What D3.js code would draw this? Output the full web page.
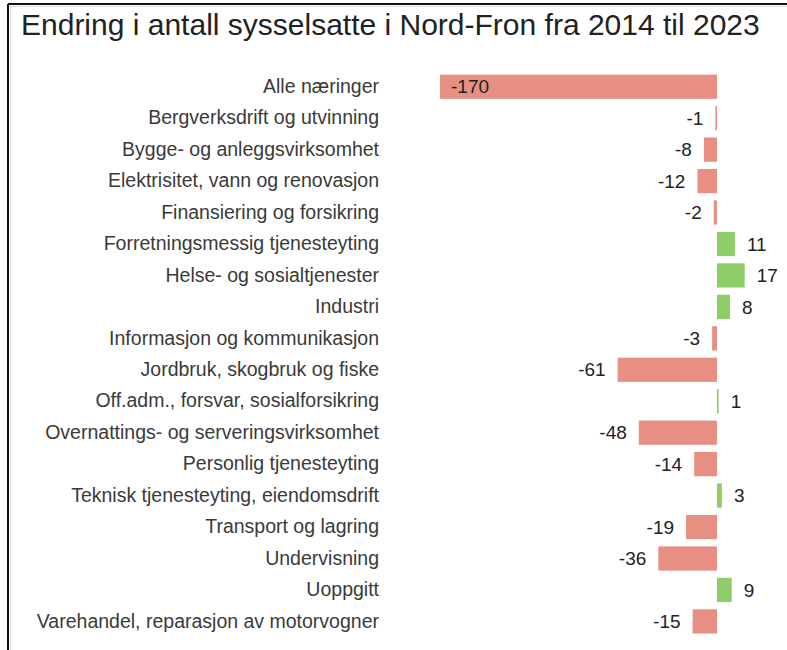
<!DOCTYPE html>
<html>
<head>
<meta charset="utf-8">
<script src="https://cdn.jsdelivr.net/npm/d3@7"></script>
<style>
  body { margin: 0; background: #fff; }
  svg text { font-family: "Liberation Sans", Arial, sans-serif; }
</style>
</head>
<body>
<svg id="chart" width="787" height="650"></svg>
<script>
// Data
const title = "Endring i antall sysselsatte i Nord-Fron fra 2014 til 2023";
const categories = [
  "Alle næringer",
  "Bergverksdrift og utvinning",
  "Bygge- og anleggsvirksomhet",
  "Elektrisitet, vann og renovasjon",
  "Finansiering og forsikring",
  "Forretningsmessig tjenesteyting",
  "Helse- og sosialtjenester",
  "Industri",
  "Informasjon og kommunikasjon",
  "Jordbruk, skogbruk og fiske",
  "Off.adm., forsvar, sosialforsikring",
  "Overnattings- og serveringsvirksomhet",
  "Personlig tjenesteyting",
  "Teknisk tjenesteyting, eiendomsdrift",
  "Transport og lagring",
  "Undervisning",
  "Uoppgitt",
  "Varehandel, reparasjon av motorvogner"
];
const values = [-170, -1, -8, -12, -2, 11, 17, 8, -3, -61, 1, -48, -14, 3, -19, -36, 9, -15];

const svg = d3.select("#chart");
const width = 787, height = 650;
const margin = { top: 71, left: 440, right: 24, bottom: 34 };

// frame
svg.append("line").attr("x1", 8).attr("x2", width).attr("y1", 4).attr("y2", 4)
  .attr("stroke", "#111").attr("stroke-width", 2);
svg.append("line").attr("x1", 8).attr("x2", 8).attr("y1", 4).attr("y2", height)
  .attr("stroke", "#111").attr("stroke-width", 2);
svg.append("line").attr("x1", 10).attr("x2", width).attr("y1", 6.5).attr("y2", 6.5)
  .attr("stroke", "#ddd").attr("stroke-width", 1);
svg.append("line").attr("x1", 10.5).attr("x2", 10.5).attr("y1", 6).attr("y2", height)
  .attr("stroke", "#ddd").attr("stroke-width", 1);

svg.append("text")
  .attr("x", 21)
  .attr("y", 35)
  .style("font-size", "30px")
  .style("fill", "#222")
  .text(title);

const x = d3.scaleLinear()
  .domain([-170, 0])
  .range([440, 717]);

const y = d3.scaleBand()
  .domain(categories)
  .range([margin.top, margin.top + 31.45 * categories.length])
  .paddingInner(0.23)
  .paddingOuter(0.115);

const yAxis = d3.axisLeft(y).tickSize(0).tickPadding(0);
const yAxisG = svg.append("g")
  .attr("transform", "translate(379,0)")
  .call(yAxis);
yAxisG.select(".domain").remove();
yAxisG.selectAll("text")
  .style("font-size", "19.5px")
  .style("font-family", "'Liberation Sans', Arial, sans-serif")
  .style("fill", "#3a3a3a");

const rows = categories.map((c, i) => ({ name: c, value: values[i] }));

const bars = svg.append("g").selectAll("g")
  .data(rows)
  .enter()
  .append("g");

bars.append("rect")
  .attr("x", d => x(Math.min(0, d.value)))
  .attr("y", d => y(d.name))
  .attr("width", d => Math.abs(x(d.value) - x(0)))
  .attr("height", y.bandwidth())
  .attr("fill", d => d.value < 0 ? "#e88f84" : "#8fcd68");

const inside = d => d.value < 0 && Math.abs(x(d.value) - x(0)) > 200;

bars.append("text")
  .attr("dy", "0.35em")
  .attr("y", d => y(d.name) + y.bandwidth() / 2)
  .attr("x", d => {
    if (inside(d)) return x(d.value) + 11;
    return d.value < 0 ? x(d.value) - 12 : x(d.value) + 12;
  })
  .attr("text-anchor", d => inside(d) ? "start" : (d.value < 0 ? "end" : "start"))
  .style("font-size", "19px")
  .style("fill", "#222")
  .text(d => d.value);
</script>
</body>
</html>
